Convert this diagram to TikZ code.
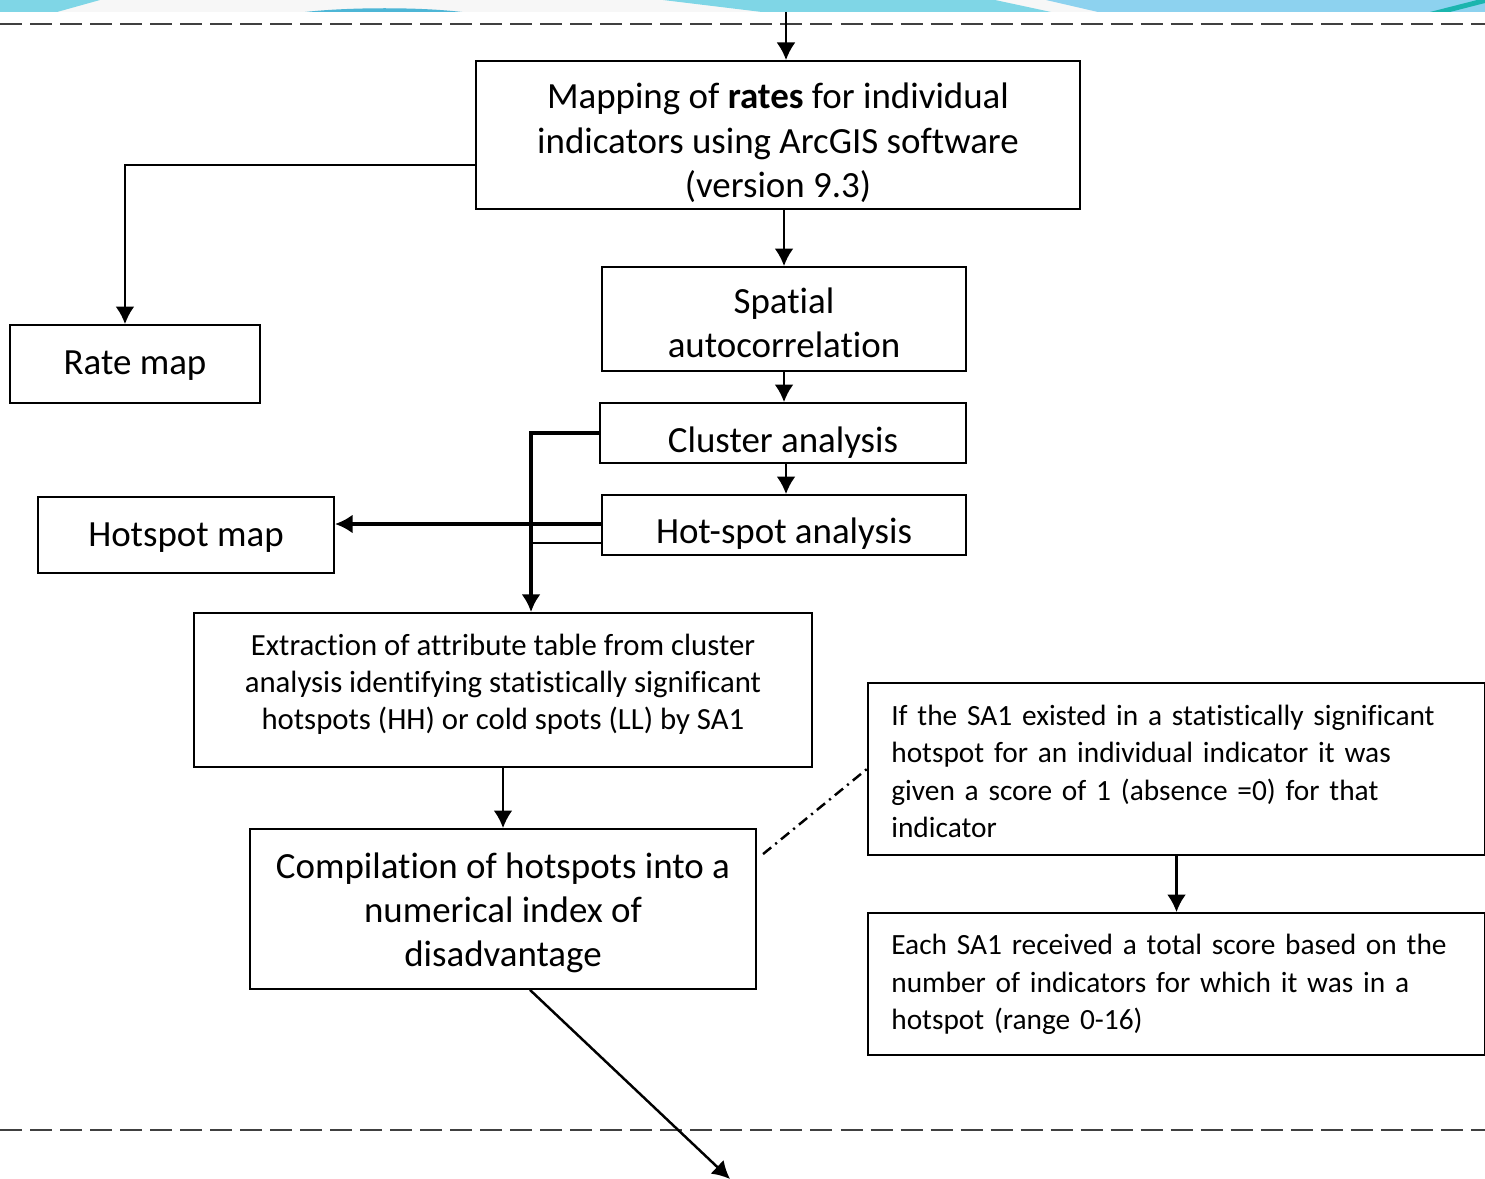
\documentclass[tikz,border=0pt]{standalone}
\usepackage{fontspec}
\setmainfont{Carlito}[Ligatures=CommonOff]
\usetikzlibrary{arrows.meta}
\definecolor{bannercyan}{HTML}{7FD6E6}
\definecolor{bannerblue}{HTML}{8DD2EF}
\definecolor{bannerteal}{HTML}{1BB5AE}
\definecolor{bannerarc}{HTML}{4DB6D6}
\definecolor{sepgray}{HTML}{404040}
% invisible struts that set where the lines sit in a box
\newcommand\strutup[1]{\rule{0pt}{#1}}
\newcommand\strutdown[1]{\rule[-#1]{0pt}{#1}}

\begin{document}
\begin{tikzpicture}[x=0.01cm,y=-0.01cm,>={Latex[length=5pt,width=5.4pt]},
    box/.style={draw,line width=0.5pt,inner sep=0pt,align=center,font=\fontsize{10.5}{12.6}\selectfont},
    smallbox/.style={box,font=\fontsize{8.75}{10.5}\selectfont},
    notebox/.style={box,align=left,text width=5.7cm,inner xsep=0.23cm,font=\fontsize{8.35}{10.65}\selectfont},
    link/.style={->,line width=0.7pt},
    sep/.style={sepgray,line width=0.7pt,dash pattern=on 0.22cm off 0.08cm}]
        \useasboundingbox (0,0) rectangle (1485,1179);
        % banner at the top
        \fill[white!97!black] (0,0) rectangle (1485,12);
        \fill[bannercyan] (0,0)--(100,0)--(57,12)--(0,12)--cycle;
        \fill[bannercyan] (663,0)--(995,0)--(1051,12)--(762,12)--cycle;
        \fill[bannerblue] (1046,0)--(1485,0)--(1485,12)--(1098,12)--cycle;
        \fill[bannerteal] (1430,12)--(1485,-2)--(1485,3)--(1450,12)--cycle;
        \fill[bannerarc] (305,12) .. controls (350,7) and (420,7) .. (462,12)--cycle;
        % separators
        \draw[sep] (0,24)--(1485,24);
        \draw[sep] (0,1130)--(1485,1130);
        % boxes
        \node[box,minimum width=6.04cm,minimum height=1.48cm] (map) at (778,135) {\strutup{13.2pt}Mapping of \textbf{rates} for individual\\indicators using ArcGIS software\\(version 9.3)\strutdown{2.8pt}};
        \node[box,minimum width=2.5cm,minimum height=0.78cm] (rate) at (135,364) {\strutup{9.9pt}Rate map\strutdown{4pt}};
        \node[box,minimum width=3.64cm,minimum height=1.04cm] (spat) at (784,319) {\strutup{12.4pt}Spatial\\autocorrelation\strutdown{3pt}};
        \node[box,minimum width=3.66cm,minimum height=0.6cm] (clus) at (783,433) {\strutup{13.7pt}Cluster analysis\strutdown{2.7pt}};
        \node[box,minimum width=3.64cm,minimum height=0.6cm] (hsan) at (784,525) {\strutup{13.3pt}Hot-spot analysis\strutdown{2.7pt}};
        \node[box,minimum width=2.96cm,minimum height=0.76cm] (hsmap) at (186,535) {\strutup{10.5pt}Hotspot map\strutdown{4pt}};
        \node[smallbox,minimum width=6.18cm,minimum height=1.54cm] (extr) at (503,690) {\strutup{9.5pt}Extraction of attribute table from cluster\\analysis identifying statistically significant\\hotspots (HH) or cold spots (LL) by SA1\strutdown{8pt}};
        \node[box,minimum width=5.06cm,minimum height=1.6cm] (comp) at (503,909) {\strutup{11.7pt}Compilation of hotspots into a\\numerical index of\\disadvantage\strutdown{4pt}};
        \node[notebox,minimum width=6.17cm,minimum height=1.72cm] (score) at (1176.5,769) {\strutup{11pt}If the SA1 existed in a statistically significant\\hotspot for an individual indicator it was\\given a score of 1 (absence =0) for that\\indicator\strutdown{4pt}};
        \node[notebox,minimum width=6.17cm,minimum height=1.42cm] (total) at (1176.5,984) {\strutup{9.8pt}Each SA1 received a total score based on the\\number of indicators for which it was in a\\hotspot (range 0-16)\strutdown{5pt}};
        \coordinate (in) at (786,12);
        \coordinate (out) at (730,1179);
        % connectors
        \draw[link] (in)--(in |- map.north);
        \draw[link] (map.west |- 0,165) -| ([xshift=-0.1cm]rate.north);
        \draw[link] (map.south -| spat.north)--(spat.north);
        \draw[link] (spat.south)--(spat.south |- clus.north);
        \draw[link] ([xshift=0.03cm]clus.south)--([xshift=0.03cm]clus.south |- hsan.north);
        \draw[link,line width=1.1pt] (clus.west) -| ([xshift=0.28cm]extr.north);
        \draw[link,line width=1.1pt] ([yshift=0.01cm]hsan.west)--([yshift=0.01cm]hsan.west -| hsmap.east);
        \draw[line width=0.7pt] (hsan.west |- 0,543)--(531,543);
        \draw[link] (extr.south)--(comp.north);
        \draw[link] (comp.south -| 530,0)--(out);
        \draw[line width=0.7pt,dash pattern=on 3pt off 1.5pt on 0.6pt off 1.5pt] ([shift={(6,26)}]comp.north east)--(score.west);
        \draw[link] (score.south)--(total.north);
    \end{tikzpicture}
\end{document}
